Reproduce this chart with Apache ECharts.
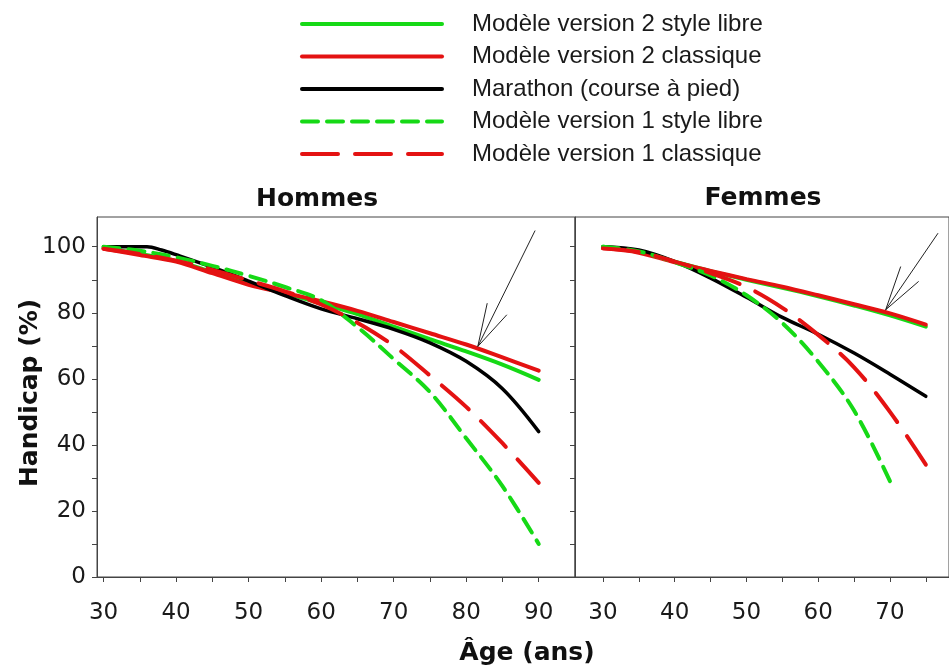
<!DOCTYPE html>
<html>
<head>
<meta charset="utf-8">
<script src="https://cdn.jsdelivr.net/npm/echarts@6/dist/echarts.min.js"></script>
<style>html,body{margin:0;padding:0;background:#fff;}#c{width:949px;height:667px;}</style>
</head>
<body>
<div id="c"></div>
<script>
// ---------- DATA ----------
const seriesNames = ['Modèle version 2 style libre','Modèle version 2 classique','Marathon (course à pied)','Modèle version 1 style libre','Modèle version 1 classique'];

// Hommes (men)
const agesH = [30,35,40,45,50,55,60,65,70,75,80,85,90];
const hV2Libre    = [99.7,97.8,95.7,92.3,88.8,86.0,82.8,79.6,75.8,72.0,68.3,64.3,59.7];
const hV2Classique= [99.4,97.5,95.5,92.0,88.5,86.0,83.5,80.6,77.2,73.8,70.4,66.5,62.5];
const hV1Libre    = [100,98.8,96.8,94.2,91.2,87.8,83.8,75.7,66.0,56.0,42.0,27.5,10.0];
const hV1Classique= [99.4,97.8,95.8,93.0,89.8,86.5,82.5,77.0,70.0,61.0,51.5,40.5,28.5];
const agesHMarathon = [30,33,36,38,40,45,50,55,60,65,70,75,80,85,90];
const hMarathon   = [100,100,100,99,97.6,93.8,89.6,85.2,81.2,78.2,75.0,70.9,65.3,57.0,44.0];

// Femmes (women)
const agesF = [30,35,40,45,50,55,60,65,70,75];
const fV2Libre    = [100,98.5,95.5,92.6,90.0,87.6,85.0,82.2,79.2,75.8];
const fV2Classique= [99.5,98.2,95.3,92.7,90.2,87.9,85.3,82.6,79.8,76.4];
const fMarathon   = [100,99.0,95.5,90.5,84.7,78.6,73.5,67.8,61.4,54.7];
const fV1Libre    = [100,98.6,95.3,91.3,85.3,76.9,65.2,50.4,29.0,null];
const fV1Classique= [99.5,98.4,95.5,92.0,87.8,81.5,73.3,63.5,50.0,34.0];

// Axis ticks / labels
const xTicksH = [30,35,40,45,50,55,60,65,70,75,80,85,90];
const xLabelsH = [30,40,50,60,70,80,90];
const xTicksF = [30,35,40,45,50,55,60,65,70,75];
const xLabelsF = [30,40,50,60,70];
const yTicks = [0,10,20,30,40,50,60,70,80,90,100];
const yLabels = [0,20,40,60,80,100];

// Annotation arrows (data coords): shaft [tail, tip], head [barb1, tip, barb2]
const arrowHShaft = [[89.5,104.9],[81.6,69.8]];
const arrowHHead  = [[82.9,82.9],[81.6,69.8],[85.6,79.4]];
const arrowFShaft = [[76.7,104.1],[69.4,80.9]];
const arrowFHead  = [[71.5,94.0],[69.4,80.9],[74.0,89.5]];

// ---------- STYLE ----------
const GREEN = '#16d916', RED = '#e41212', BLACK = '#000000';
const styles = [
  {color: GREEN, width: 4, type: 'solid'},
  {color: RED, width: 4, type: 'solid'},
  {color: BLACK, width: 3.5, type: 'solid'},
  {color: GREEN, width: 4, type: [16, 9]},
  {color: RED, width: 4, type: [36, 17]}
];
const zip = (xs, ys) => xs.map((x, i) => [x, ys[i]]);
function mk(name, idx, data, gi) {
  const s = styles[idx];
  return {
    name: name, type: 'line', xAxisIndex: gi, yAxisIndex: gi, data: data,
    symbol: 'none', smooth: 0.35, connectNulls: false,
    lineStyle: {color: s.color, width: s.width, type: s.type, cap: 'round'},
    itemStyle: {color: s.color}, z: 3 + idx, animation: false
  };
}
function arrow(data, gi) {
  return {type: 'line', xAxisIndex: gi, yAxisIndex: gi, data: data, symbol: 'none',
    silent: true, lineStyle: {color: '#222', width: 1}, z: 10, animation: false};
}

const labelFont = {fontFamily: 'DejaVu Sans', fontSize: 23, color: '#1a1a1a'};
function xAxis(gi, min, max, ticks, labels) {
  return {type: 'value', gridIndex: gi, min: min, max: max,
    axisLine: {show: true, lineStyle: {color: '#444', width: 1}},
    axisTick: {show: true, inside: false, length: 5, customValues: ticks, lineStyle: {color: '#444'}},
    axisLabel: Object.assign({show: true, margin: 25, customValues: labels}, labelFont),
    splitLine: {show: false}};
}
function yAxis(gi, showLabels) {
  return {type: 'value', gridIndex: gi, min: 0, max: 109,
    axisLine: {show: true, lineStyle: {color: '#444', width: 1}},
    axisTick: {show: true, inside: false, length: 5, customValues: yTicks, lineStyle: {color: '#444'}},
    axisLabel: Object.assign({show: showLabels, margin: 11, customValues: yLabels}, labelFont),
    splitLine: {show: false}};
}

const chart = echarts.init(document.getElementById('c'), null, {renderer: 'canvas'});
chart.setOption({
  animation: false,
  backgroundColor: '#fff',
  legend: {
    orient: 'vertical', left: 295, top: 7,
    itemWidth: 140, itemHeight: 14, itemGap: 8.5,
    data: seriesNames,
    selectedMode: false,
    itemStyle: {opacity: 0, borderWidth: 0},
    lineStyle: {width: 4},
    textStyle: {fontFamily: 'Liberation Sans', fontSize: 24, color: '#1a1a1a', lineHeight: 24, padding: [0,0,0,25]}
  },
  grid: [
    {left: 97, top: 217, width: 478, height: 360, show: true, borderColor: '#444', borderWidth: 1, backgroundColor: 'transparent'},
    {left: 575, top: 217, width: 379, height: 360, show: true, borderColor: '#444', borderWidth: 1, backgroundColor: 'transparent'}
  ],
  xAxis: [xAxis(0, 29.1, 95, xTicksH, xLabelsH), xAxis(1, 26.1, 78.23, xTicksF, xLabelsF)],
  yAxis: [yAxis(0, true), yAxis(1, false)],
  graphic: [
    {type: 'text', x: 317, y: 199, style: {text: 'Hommes', font: 'bold 25px "DejaVu Sans"', fill: '#111', align: 'center', verticalAlign: 'middle'}},
    {type: 'text', x: 763, y: 198, style: {text: 'Femmes', font: 'bold 25px "DejaVu Sans"', fill: '#111', align: 'center', verticalAlign: 'middle'}},
    {type: 'text', x: 527, y: 653, style: {text: 'Âge (ans)', font: 'bold 25px "DejaVu Sans"', fill: '#111', align: 'center', verticalAlign: 'middle'}},
    {type: 'text', x: 30, y: 393, rotation: Math.PI / 2, style: {text: 'Handicap (%)', font: 'bold 25px "DejaVu Sans"', fill: '#111', align: 'center', verticalAlign: 'middle'}}
  ],
  series: [
    mk(seriesNames[0], 0, zip(agesH, hV2Libre), 0),
    mk(seriesNames[1], 1, zip(agesH, hV2Classique), 0),
    mk(seriesNames[2], 2, zip(agesHMarathon, hMarathon), 0),
    mk(seriesNames[3], 3, zip(agesH, hV1Libre), 0),
    mk(seriesNames[4], 4, zip(agesH, hV1Classique), 0),
    mk(seriesNames[0], 0, zip(agesF, fV2Libre), 1),
    mk(seriesNames[1], 1, zip(agesF, fV2Classique), 1),
    mk(seriesNames[2], 2, zip(agesF, fMarathon), 1),
    mk(seriesNames[3], 3, zip(agesF, fV1Libre), 1),
    mk(seriesNames[4], 4, zip(agesF, fV1Classique), 1),
    arrow(arrowHShaft, 0), arrow(arrowHHead, 0),
    arrow(arrowFShaft, 1), arrow(arrowFHead, 1)
  ]
});
</script>
</body>
</html>
